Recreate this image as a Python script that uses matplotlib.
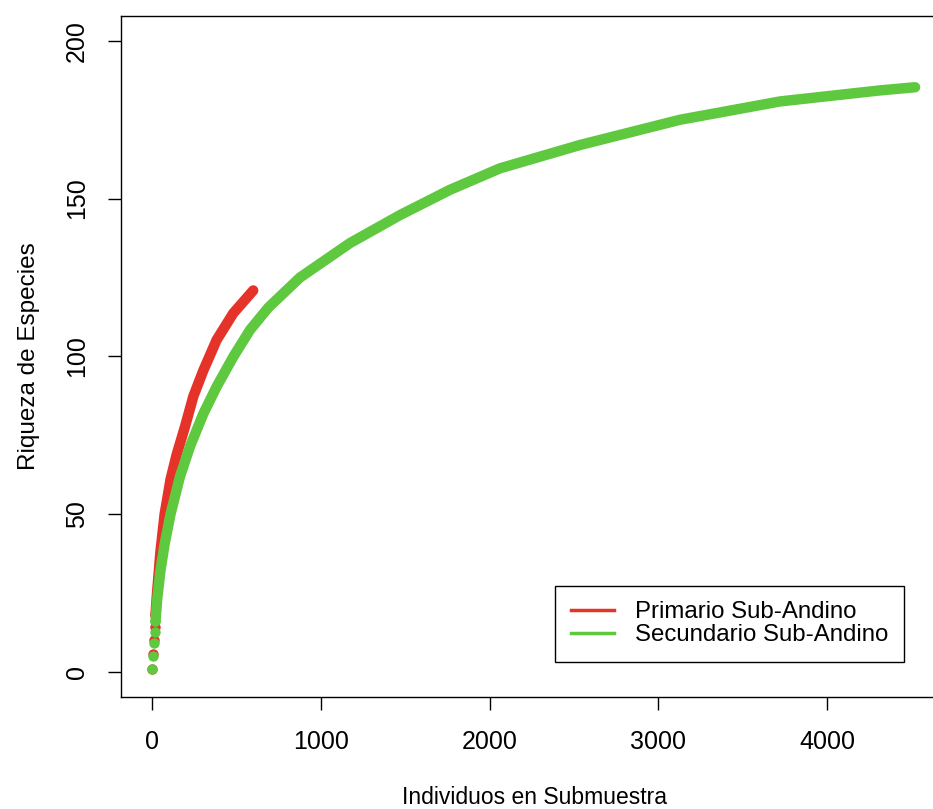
import matplotlib
matplotlib.use("Agg")
import matplotlib.pyplot as plt
from matplotlib.lines import Line2D

plt.rcParams['font.family'] = ['Liberation Sans', 'DejaVu Sans']

# rarefaction curves (individuals, species)
primario_n = [1, 6, 11, 16, 21, 30, 50, 75, 110, 146, 196, 245, 304, 383, 482, 600]
primario_s = [1, 5.6, 10, 14.2, 18.2, 25, 38, 50, 61, 68.8, 77.8, 87.3, 95.5, 105.2, 113.7, 120.9]

secundario_n = [1, 6, 11, 16, 21, 30, 50, 75, 110, 166, 225, 304, 383, 482, 581, 690, 877,
                1173, 1470, 1766, 2062, 2536, 3129, 3721, 4314, 4521]
secundario_s = [1, 5.1, 9.1, 12.8, 16, 22.5, 32, 40.5, 50, 61.9, 71.4, 81.8, 90.4, 99.9, 108.4,
                115.5, 125, 135.9, 144.8, 152.8, 159.6, 167.0, 175.0, 180.8, 184.3, 185.3]

labels = ["Primario Sub-Andino", "Secundario Sub-Andino"]
colors = ["#E6332A", "#5EC83F"]

x_ticks = [0, 1000, 2000, 3000, 4000]
y_ticks = [0, 50, 100, 150, 200]

W, H = 933, 809
fig = plt.figure(figsize=(W / 100, H / 100), dpi=100)
# axes box extends past the right edge, as in the original export
left, right = 121.4, 947.0
top, bottom = 15.6, 697.2
ax = fig.add_axes([left / W, 1 - bottom / H, (right - left) / W, (bottom - top) / H])

n_dots = 4  # first few subsamples show as separate dots
for n, s, c in [(primario_n, primario_s, colors[0]), (secundario_n, secundario_s, colors[1])]:
    ax.plot(n[n_dots:], s[n_dots:], '-', color=c, lw=7.5,
            solid_capstyle='round', solid_joinstyle='round')
    ax.plot(n[:n_dots + 1], s[:n_dots + 1], 'o', color=c, ms=7.5, mew=0)

ax.set_xlim(-181, 4710)
ax.set_ylim(-8, 208)
ax.set_xticks(x_ticks)
ax.set_yticks(y_ticks)
ax.tick_params(direction='out', length=9.5, width=1, labelsize=18, pad=14)
for t in ax.get_yticklabels():
    t.set_rotation(90)
    t.set_va('center')
for sp in ax.spines.values():
    sp.set_linewidth(1)

ax.set_xlabel("Individuos en Submuestra", fontsize=16.5, labelpad=23)
ax.set_ylabel("Riqueza de Especies", fontsize=17.5, labelpad=18)

handles = [Line2D([0], [0], color=c, lw=2.5) for c in colors]
leg = ax.legend(handles, labels, loc='lower right', bbox_to_anchor=(0.948, 0.0516),
                fontsize=17.3, frameon=True, fancybox=False, edgecolor='black',
                framealpha=1, borderpad=0.65, labelspacing=0.05, handlelength=1.8,
                handletextpad=0.87, borderaxespad=0)
leg.get_frame().set_linewidth(1)

fig.savefig("out.png", dpi=100)
